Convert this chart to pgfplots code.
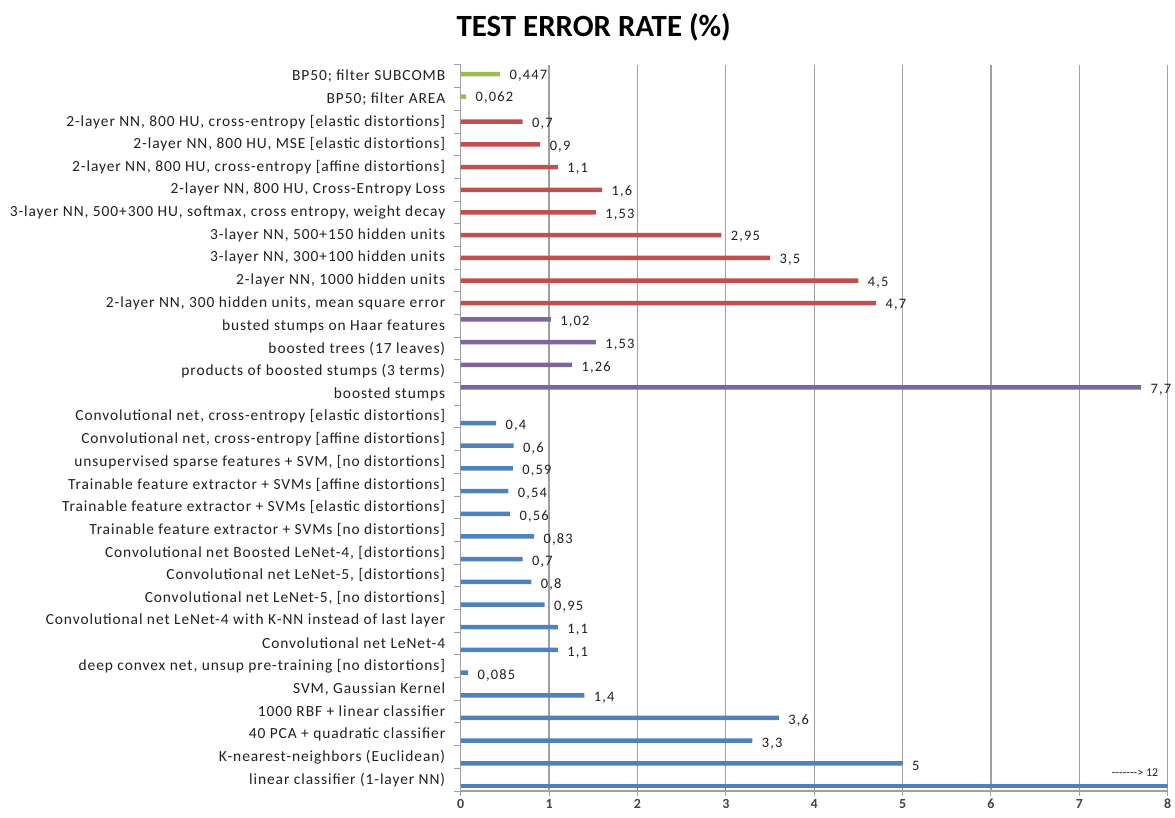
\documentclass[border=0pt]{standalone}
\usepackage{pgfplots}
\pgfplotsset{compat=1.18}
\usepackage{pgfplotstable}
\usepackage{fontspec}
\setmainfont{Carlito}
\definecolor{cblue}{HTML}{4F81BD}
\definecolor{cred}{HTML}{C0504D}
\definecolor{cgreen}{HTML}{9BBB59}
\definecolor{cpurple}{HTML}{8064A2}
\definecolor{cgrid}{HTML}{A0A0A0}
\definecolor{ctext}{HTML}{202020}
\newcommand{\lblfont}{\fontsize{14.5}{16}\selectfont\addfontfeature{LetterSpace=8}}
\newcommand{\catfont}{\fontsize{15.5}{17}\selectfont\addfontfeature{LetterSpace=6}}

\pgfplotstableread{
y x lab
1 5 5
2 3.3 3,3
3 3.6 3,6
4 1.4 1,4
5 0.085 0,085
6 1.1 1,1
7 1.1 1,1
8 0.95 0,95
9 0.8 0,8
10 0.7 0,7
11 0.83 0,83
12 0.56 0,56
13 0.54 0,54
14 0.59 0,59
15 0.6 0,6
16 0.4 0,4
}\blueseries

\pgfplotstableread{
y x lab
17 7.7 7,7
18 1.26 1,26
19 1.53 1,53
20 1.02 1,02
}\purpleseries

\pgfplotstableread{
y x lab
21 4.7 4,7
22 4.5 4,5
23 3.5 3,5
24 2.95 2,95
25 1.53 1,53
26 1.6 1,6
27 1.1 1,1
28 0.9 0,9
29 0.7 0,7
}\redseries

\pgfplotstableread{
y x lab
30 0.062 0,062
31 0.447 0,447
}\greenseries

\begin{document}
\begin{tikzpicture}
\begin{axis}[
  name=ax,
  scale only axis, width=707bp, height=726bp,
  xmin=0, xmax=8, ymin=-0.5, ymax=31.5,
  axis x line*=bottom, axis y line*=left,
  xtick={0,...,8},
  ytick={0,...,31},
  minor ytick={-0.5,0.5,...,31.5},
  yticklabels={
    {linear classifier (1-layer NN)},
    {K-nearest-neighbors (Euclidean)},
    {40 PCA + quadratic classifier},
    {1000 RBF + linear classifier},
    {SVM, Gaussian Kernel},
    {deep convex net, unsup pre-training [no distortions]},
    {Convolutional net LeNet-4},
    {Convolutional net LeNet-4 with K-NN instead of last layer},
    {Convolutional net LeNet-5, [no distortions]},
    {Convolutional net LeNet-5, [distortions]},
    {Convolutional net Boosted LeNet-4, [distortions]},
    {Trainable feature extractor + SVMs [no distortions]},
    {Trainable feature extractor + SVMs [elastic distortions]},
    {Trainable feature extractor + SVMs [affine distortions]},
    {unsupervised sparse features + SVM, [no distortions]},
    {Convolutional net, cross-entropy [affine distortions]},
    {Convolutional net, cross-entropy [elastic distortions]},
    {boosted stumps},
    {products of boosted stumps (3 terms)},
    {boosted trees (17 leaves)},
    {busted stumps on Haar features},
    {2-layer NN, 300 hidden units, mean square error},
    {2-layer NN, 1000 hidden units},
    {3-layer NN, 300+100 hidden units},
    {3-layer NN, 500+150 hidden units},
    {3-layer NN, 500+300 HU, softmax, cross entropy, weight decay},
    {2-layer NN, 800 HU, Cross-Entropy Loss},
    {2-layer NN, 800 HU, cross-entropy [affine distortions]},
    {2-layer NN, 800 HU, MSE [elastic distortions]},
    {2-layer NN, 800 HU, cross-entropy [elastic distortions]},
    {BP50; filter AREA},
    {BP50; filter SUBCOMB}
  },
  tick align=outside,
  major tick length=5bp, minor tick length=7bp,
  every tick/.style={cgrid, line width=1bp},
  major y tick style={draw=none},
  xmajorgrids,
  grid style={cgrid, line width=1.2bp},
  axis line style={cgrid, line width=1.2bp},
  /pgf/number format/assume math mode=true,
  yticklabel style={font=\catfont, text=ctext, xshift=-7bp},
  xticklabel style={font=\fontsize{14}{15}\selectfont\bfseries, text=ctext!85, yshift=-2bp, inner sep=1bp},
  point meta=explicit symbolic,
  nodes near coords,
  every node near coord/.append style={anchor=west, xshift=6bp,
     font=\lblfont, text=ctext},
  clip=true,
]
\addplot[xbar, bar width=4.5bp, bar shift=-6.4bp, fill=cblue, draw=none,
  every node near coord/.append style={yshift=-9bp}]
  table[x=x, y=y, meta=lab]{\blueseries};
\addplot[xbar, bar width=4.5bp, bar shift=6.5bp, fill=cpurple, draw=none,
  every node near coord/.append style={yshift=4bp}]
  table[x=x, y=y, meta=lab]{\purpleseries};
\addplot[xbar, bar width=4.5bp, bar shift=0bp, fill=cred, draw=none,
  every node near coord/.append style={yshift=-2bp}]
  table[x=x, y=y, meta=lab]{\redseries};
\addplot[xbar, bar width=4.5bp, bar shift=2.3bp, fill=cgreen, draw=none,
  every node near coord/.append style={yshift=1bp}]
  table[x=x, y=y, meta=lab]{\greenseries};
\addplot[xbar, bar width=4.5bp, bar shift=-6.4bp, fill=cblue, draw=none, nodes near coords={}]
  coordinates {(12,0)};
\end{axis}
\node[anchor=east, font=\fontsize{12}{13}\selectfont, text=ctext] at ([xshift=-6bp, yshift=18bp]ax.south east) {\mbox{-{}-{}-{}-{}-{}-{}->} 12};
\node[font=\bfseries\fontsize{31}{34}\selectfont, text=black] at ([xshift=133bp, yshift=38bp]ax.north west) {TEST ERROR RATE (\%)};
\pgfresetboundingbox
\path[use as bounding box] ([shift={(-460.7bp,-26bp)}]ax.south west) rectangle ([shift={(7.3bp,65bp)}]ax.north east);
\end{tikzpicture}
\end{document}
